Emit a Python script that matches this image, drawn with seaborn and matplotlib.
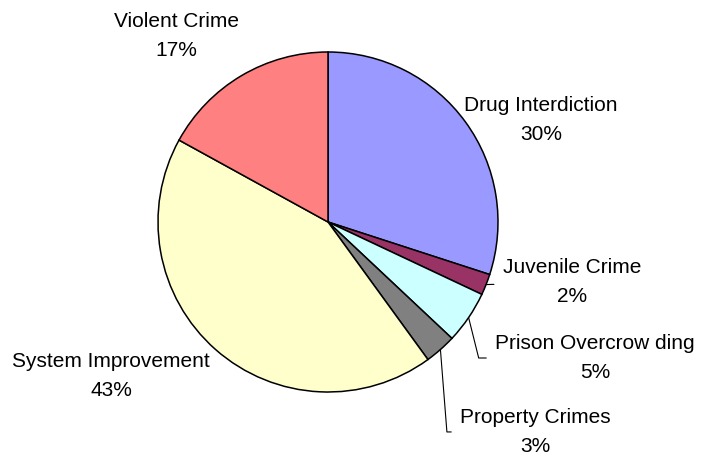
import numpy as np
import matplotlib
matplotlib.use("Agg")
import matplotlib.pyplot as plt
import seaborn as sns

# categories and shares (percent), clockwise from 12 o'clock
categories = ["Drug Interdiction", "Juvenile Crime", "Prison Overcrow ding",
              "Property Crimes", "System Improvement", "Violent Crime"]
shares = [30, 2, 5, 3, 43, 17]

colors = ["#9999FF", "#993366", "#CCFFFF", "#808080", "#FFFFCC", "#FF8080"]

# label centre positions, in pie-radius units (layout only)
label_pos = [(1.253, 0.60), (1.435, -0.353), (1.57, -0.80),
             (1.22, -1.235), (-1.276, -0.906), (-0.894, 1.094)]
# leader line style per label: None = no line, 0 = straight, else angle of second segment
leader = [None, 0, -76, -85.5, None, None]

sns.set_theme(style="white")
plt.rcParams["font.family"] = ["Liberation Sans", "DejaVu Sans"]

fig = plt.figure(figsize=(7.09, 4.59), dpi=100)
ax = fig.add_axes([0, 0, 1, 1])

wedges, _ = ax.pie(shares, colors=colors, startangle=90, counterclock=False,
                   radius=1.0, center=(0, 0),
                   wedgeprops=dict(edgecolor="black", linewidth=1.1))

total = sum(shares)
for w, name, val, pos, ld in zip(wedges, categories, shares, label_pos, leader):
    mid = np.deg2rad((w.theta1 + w.theta2) / 2)
    txt = f"{name}\n{round(100 * val / total)}%"
    if ld is None:
        ax.text(pos[0], pos[1], txt, ha="center", va="center",
                fontsize=15, linespacing=1.65, color="black")
    else:
        cs = "arc3,rad=0" if ld == 0 else f"angle,angleA=0,angleB={ld},rad=0"
        ax.annotate(txt, xy=(np.cos(mid), np.sin(mid)), xytext=pos,
                    ha="center", va="center", fontsize=15, linespacing=1.65,
                    color="black",
                    arrowprops=dict(arrowstyle="-", color="black", lw=0.8,
                                    connectionstyle=cs, shrinkA=4, shrinkB=0))

ax.set_xlim((0 - 328) / 170, (709 - 328) / 170)
ax.set_ylim((222 - 459) / 170, (222 - 0) / 170)
ax.set_aspect("equal")
ax.axis("off")

fig.savefig("out.png", dpi=100, facecolor="white")
